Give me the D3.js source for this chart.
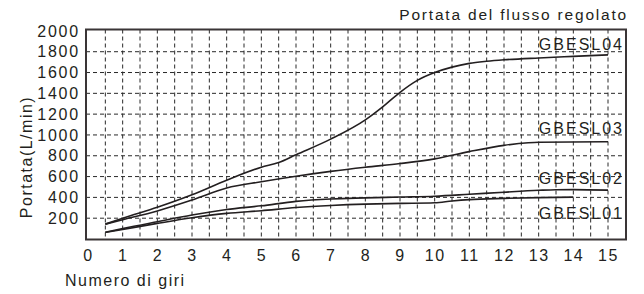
<!DOCTYPE html>
<html>
<head>
<meta charset="utf-8">
<script src="https://cdn.jsdelivr.net/npm/d3@7"></script>
<style>
body { margin: 0; background: #fff; }
text { font-family: "Liberation Sans", Arial, sans-serif; fill: #231f20; }
.axis path, .axis line { display: none; }
</style>
</head>
<body>
<div id="chart"></div>
<script>
// data (giri -> L/min)
var xTicks = [0,1,2,3,4,5,6,7,8,9,10,11,12,13,14,15];
var yTicks = [200,400,600,800,1000,1200,1400,1600,1800,2000];
var seriesNames = ["GBESL04", "GBESL03", "GBESL02", "GBESL01"];

var giri04 = [0.5, 1, 2, 3, 4, 5, 5.5, 6, 7, 8, 8.5, 9, 9.5, 10, 10.5, 11, 11.5, 12, 13, 14, 15];
var val04  = [143, 200, 305, 425, 565, 690, 735, 810, 960, 1145, 1270, 1410, 1525, 1600, 1652, 1688, 1708, 1722, 1740, 1755, 1770];

var giri03 = [0.5, 1, 2, 3, 4, 5, 6, 7, 8, 9, 10, 11, 12, 12.7, 13, 15];
var val03  = [143, 185, 270, 375, 490, 550, 603, 650, 690, 725, 770, 840, 900, 925, 930, 935];

var giri02 = [0.5, 1, 2, 3, 4, 5, 6, 7, 8, 9, 10, 11, 12, 13, 13.5, 14, 15];
var val02  = [64, 100, 166, 230, 284, 319, 362, 385, 395, 403, 411, 430, 450, 468, 474, 475, 470];

var giri01 = [0.5, 1, 2, 3, 4, 5, 6, 7, 8, 9, 10, 10.5, 11, 12, 13, 14];
var val01  = [64, 92, 150, 204, 246, 272, 302, 322, 335, 342, 348, 365, 378, 390, 398, 402];

var labelY = [1770, 960, 480, 140]; // where the series names sit

var svgWidth = 644, svgHeight = 294;
var svg = d3.select("#chart").append("svg")
    .attr("width", svgWidth)
    .attr("height", svgHeight);

var x = d3.scaleLinear().domain([0, 15]).range([88, 608]);
var y = d3.scaleLinear().domain([0, 2000]).range([239, 30.9]);

var plotLeft = 86, plotRight = 626, plotTop = 29.5, plotBottom = 239.5;

// dashed grid, every half turn and every 200 L/min
var xGrid = d3.range(0.5, 15.01, 0.5);
svg.append("g")
    .selectAll("line").data(xGrid).enter().append("line")
    .attr("x1", d => x(d)).attr("x2", d => x(d))
    .attr("y1", plotTop).attr("y2", plotBottom)
    .attr("stroke", "#2a2a2a")
    .attr("stroke-width", 1)
    .attr("stroke-dasharray", "4,3");

svg.append("g")
    .selectAll("line").data(yTicks.slice(0, -1)).enter().append("line")
    .attr("x1", plotLeft).attr("x2", plotRight)
    .attr("y1", d => y(d)).attr("y2", d => y(d))
    .attr("stroke", "#2a2a2a")
    .attr("stroke-width", 1)
    .attr("stroke-dasharray", "4,3");

// frame
svg.append("rect")
    .attr("x", plotLeft).attr("y", plotTop)
    .attr("width", plotRight - plotLeft).attr("height", plotBottom - plotTop)
    .attr("fill", "none").attr("stroke", "#3a3536").attr("stroke-width", 2);

// axes (labels only)
var xAxis = svg.append("g").attr("class", "axis")
    .attr("transform", `translate(0, ${plotBottom})`)
    .call(d3.axisBottom(x).tickValues(xTicks).tickSize(0).tickPadding(10).tickFormat(d3.format("d")));
xAxis.selectAll("text")
    .attr("font-size", "16px")
    .style("letter-spacing", "1.5px")
    .attr("font-family", null);

var yAxis = svg.append("g").attr("class", "axis")
    .attr("transform", `translate(${plotLeft}, 0)`)
    .call(d3.axisLeft(y).tickValues(yTicks).tickSize(0).tickPadding(6).tickFormat(d3.format("d")));
yAxis.selectAll("text")
    .attr("font-size", "16px")
    .style("letter-spacing", "1.8px")
    .attr("font-family", null);

// curves
var line = d3.line()
    .x(d => x(d[0]))
    .y(d => y(d[1]))
    .curve(d3.curveMonotoneX);

var allSeries = [
    d3.zip(giri04, val04),
    d3.zip(giri03, val03),
    d3.zip(giri02, val02),
    d3.zip(giri01, val01)
];

svg.append("g").selectAll("path")
    .data(allSeries).enter().append("path")
    .attr("d", line)
    .attr("fill", "none")
    .attr("stroke", "#231f20")
    .attr("stroke-width", 1.6);

// series names
svg.append("g").selectAll("text")
    .data(seriesNames).enter().append("text")
    .attr("x", 624)
    .attr("y", (d, i) => y(labelY[i]) - 5)
    .attr("text-anchor", "end")
    .attr("font-size", "16px")
    .style("letter-spacing", "2px")
    .text(d => d);

// titles
svg.append("text")
    .attr("x", 628).attr("y", 20)
    .attr("text-anchor", "end")
    .attr("font-size", "15.5px")
    .style("letter-spacing", "1.8px")
    .text("Portata del flusso regolato");

svg.append("text")
    .attr("x", 65).attr("y", 286)
    .attr("font-size", "16px")
    .style("letter-spacing", "1.5px")
    .text("Numero di giri");

svg.append("text")
    .attr("transform", "rotate(-90)")
    .attr("x", -157).attr("y", 32)
    .attr("text-anchor", "middle")
    .attr("font-size", "16px")
    .style("letter-spacing", "1.5px")
    .text("Portata(L/min)");
</script>
</body>
</html>
